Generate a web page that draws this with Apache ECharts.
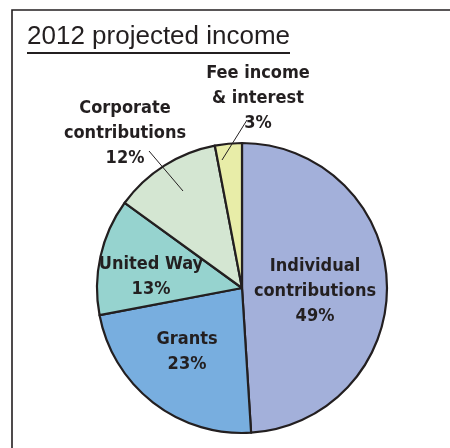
<!DOCTYPE html>
<html>
<head>
<meta charset="utf-8">
<script src="https://cdn.jsdelivr.net/npm/echarts@6/dist/echarts.min.js"></script>
<style>html,body{margin:0;padding:0;background:#fff}#c{width:450px;height:448px}</style>
</head>
<body>
<div id="c"></div>
<script>
const titleText = '2012 projected income';
const categories = ['Individual\ncontributions', 'Grants', 'United Way', 'Corporate\ncontributions', 'Fee income\n& interest'];
const values = [49, 23, 13, 12, 3];
const colors = ['#a3b0da', '#78aedf', '#96d3cf', '#d4e6d2', '#e8eda8'];

// label placement (style only)
const labelPos = [[315, 291], [187, 352], [151, 277], [125, 133], [258, 98]];
const leaderLines = [[149, 151, 183, 191], [247, 120, 222, 160]];

const chart = echarts.init(document.getElementById('c'), null, {renderer: 'canvas'});
const ink = '#231f20';
chart.setOption({
  animation: false,
  graphic: [
    {type: 'rect', shape: {x: 12, y: 10, width: 600, height: 600}, style: {fill: 'none', stroke: ink, lineWidth: 1.6}},
    {type: 'text', left: 27, top: 24, style: {text: titleText, font: '26px "Liberation Sans", Arial, sans-serif', fill: ink}},
    {type: 'line', shape: {x1: 27, y1: 53, x2: 290, y2: 53}, style: {stroke: ink, lineWidth: 2}}
  ].concat(leaderLines.map(l => ({type: 'line', z: 10, shape: {x1: l[0], y1: l[1], x2: l[2], y2: l[3]}, style: {stroke: ink, lineWidth: 1}}))),
  series: [{
    type: 'pie',
    center: [242, 288],
    radius: 145,
    startAngle: 90,
    clockwise: true,
    avoidLabelOverlap: false,
    itemStyle: {borderColor: ink, borderWidth: 2.2},
    label: {
      show: true,
      position: 'outside',
      formatter: p => p.name + '\n' + p.value + '%',
      fontFamily: '"Liberation Sans Narrow", "DejaVu Sans Condensed", sans-serif',
      fontWeight: 'bold',
      fontSize: 18,
      lineHeight: 25,
      color: ink,
      align: 'center'
    },
    labelLine: {show: false},
    labelLayout: function (params) {
      const i = params.dataIndex;
      return {x: labelPos[i][0], y: labelPos[i][1], align: 'center', verticalAlign: 'middle'};
    },
    data: categories.map((n, i) => ({
      name: n, value: values[i],
      itemStyle: {color: colors[i]}
    }))
  }]
});
</script>
</body>
</html>
